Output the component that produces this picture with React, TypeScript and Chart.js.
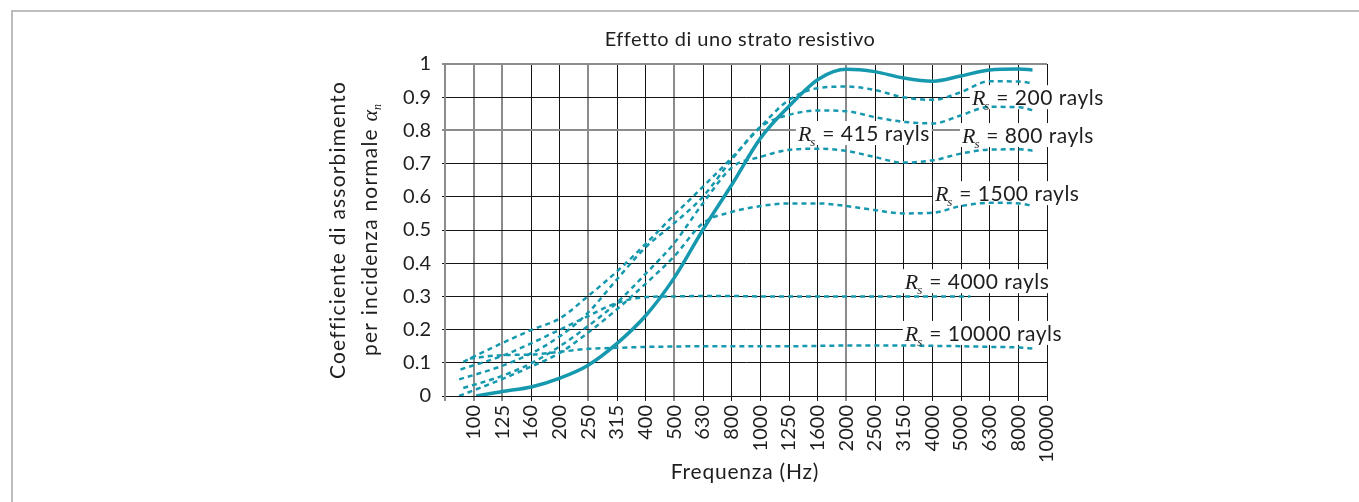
import React, { useEffect, useRef } from 'react';
import { Chart, registerables } from 'chart.js';

Chart.register(...registerables);

const TITLE = 'Effetto di uno strato resistivo';
const X_TITLE = 'Frequenza (Hz)';
const Y_TITLE_1 = 'Coefficiente di assorbimento';
const Y_TITLE_2 = 'per incidenza normale ';

const BAND_LABELS = ['100', '125', '160', '200', '250', '315', '400', '500', '630', '800', '1000', '1250', '1600', '2000', '2500', '3150', '4000', '5000', '6300', '8000', '10000'];
const Y_TICK_LABELS = ['0', '0.1', '0.2', '0.3', '0.4', '0.5', '0.6', '0.7', '0.8', '0.9', '1'];

// Rs = 415 rayls (solid)
const F_415 = [102, 125, 160, 200, 250, 315, 400, 500, 630, 800, 1000, 1250, 1600, 2000, 2500, 3150, 4000, 5000, 6300, 8000, 8900];
const A_415 = [0, 0.013, 0.028, 0.054, 0.092, 0.157, 0.244, 0.355, 0.5, 0.64, 0.776, 0.87, 0.955, 0.984, 0.977, 0.958, 0.948, 0.964, 0.982, 0.985, 0.982];

// Rs = 200 rayls
const F_200 = [92, 112, 160, 200, 250, 315, 400, 500, 630, 800, 1000, 1250, 1600, 2000, 2500, 3150, 4000, 5000, 6300, 8000, 8900];
const A_200 = [0.103, 0.139, 0.2, 0.234, 0.3, 0.374, 0.46, 0.545, 0.63, 0.72, 0.81, 0.89, 0.928, 0.932, 0.922, 0.9, 0.892, 0.915, 0.948, 0.947, 0.942];

// Rs = 800 rayls
const F_800 = [89, 125, 160, 200, 250, 315, 400, 500, 630, 800, 1000, 1250, 1600, 2000, 2500, 3150, 4000, 5000, 6300, 8000, 8900];
const A_800 = [0.05, 0.09, 0.13, 0.18, 0.25, 0.35, 0.45, 0.52, 0.6, 0.715, 0.81, 0.846, 0.86, 0.858, 0.84, 0.826, 0.821, 0.845, 0.871, 0.87, 0.861];

// upper 1500-type curve
const F_1500A = [92, 125, 160, 200, 250, 315, 400, 500, 630, 800, 1000, 1250, 1600, 2000, 2500, 3150, 4000, 5000, 6300, 8000, 8900];
const A_1500A = [0.024, 0.06, 0.1, 0.15, 0.21, 0.28, 0.37, 0.46, 0.58, 0.69, 0.72, 0.741, 0.745, 0.738, 0.72, 0.703, 0.71, 0.73, 0.742, 0.743, 0.739];

// Rs = 1500 rayls
const F_1500 = [89, 125, 160, 200, 250, 315, 400, 500, 630, 800, 1000, 1250, 1600, 2000, 2500, 3150, 4000, 5000, 6300, 8000, 8900];
const A_1500 = [0, 0.05, 0.09, 0.13, 0.19, 0.26, 0.34, 0.42, 0.52, 0.555, 0.572, 0.58, 0.58, 0.572, 0.56, 0.55, 0.552, 0.572, 0.582, 0.58, 0.573];

// Rs = 4000 rayls
const F_4000 = [90, 125, 160, 200, 250, 315, 400, 500, 630, 800, 1000, 1250, 1600, 2000, 2500, 3150, 4000, 5400];
const A_4000 = [0.08, 0.12, 0.16, 0.2, 0.24, 0.28, 0.298, 0.3, 0.301, 0.301, 0.3, 0.3, 0.3, 0.3, 0.3, 0.3, 0.3, 0.3];

// Rs = 10000 rayls
const F_10000 = [97, 125, 160, 200, 250, 315, 400, 500, 630, 800, 1000, 1250, 1600, 2000, 2500, 3150, 4000, 5000, 6300, 8000, 8900];
const A_10000 = [0.113, 0.123, 0.125, 0.133, 0.142, 0.145, 0.148, 0.149, 0.15, 0.15, 0.15, 0.15, 0.151, 0.152, 0.152, 0.152, 0.151, 0.15, 0.148, 0.146, 0.143];

// curve annotations: anchor (left edge frequency, alpha at text centre)
const NOTE_TEXT = [' = 200 rayls', ' = 415 rayls', ' = 800 rayls', ' = 1500 rayls', ' = 4000 rayls', ' = 10000 rayls'];
const NOTE_FREQ = [5470, 1352, 5050, 4064, 3192, 3192];
const NOTE_ALPHA = [0.9, 0.792, 0.786, 0.611, 0.346, 0.19];

const TEAL = '#1699ae';
const SANS = 'Lato, "Open Sans", "Noto Sans", sans-serif';
const SERIF = '"Liberation Serif", "DejaVu Serif", serif';
const TEXT = '#1e1e1e';

const pts = (f: number[], a: number[]) => f.map((x, i) => ({ x, y: a[i] }));

function dashed(label: string, f: number[], a: number[]) {
  return {
    label,
    data: pts(f, a),
    borderColor: TEAL,
    borderWidth: 2.5,
    borderDash: [5, 4],
    pointRadius: 0,
    cubicInterpolationMode: 'monotone' as const,
    fill: false,
  };
}

function drawRs(ctx: any, x: number, y: number, rest: string, withBox: boolean, withText: boolean) {
  ctx.save();
  ctx.letterSpacing = '0px';
  ctx.font = `italic 22px ${SERIF}`;
  const wR = ctx.measureText('R').width;
  ctx.font = `italic 13px ${SERIF}`;
  const wS = ctx.measureText('s').width;
  ctx.font = `21px ${SANS}`;
  ctx.letterSpacing = '0.5px';
  const wRest = ctx.measureText(rest).width;
  const total = wR + wS + wRest;
  if (withBox) {
    ctx.fillStyle = '#ffffff';
    ctx.fillRect(x - 2, y - 12, total + 4, 24);
  }
  if (withText) {
    ctx.fillStyle = TEXT;
    ctx.textBaseline = 'alphabetic';
    ctx.textAlign = 'left';
    ctx.letterSpacing = '0px';
    ctx.font = `italic 22px ${SERIF}`;
    ctx.fillText('R', x, y + 8);
    ctx.font = `italic 13px ${SERIF}`;
    ctx.fillText('s', x + wR - 1, y + 13);
    ctx.font = `21px ${SANS}`;
    ctx.letterSpacing = '0.5px';
    ctx.fillText(rest, x + wR + wS, y + 8);
  }
  ctx.restore();
}

const annotationPlugin = {
  id: 'rsNotes',
  beforeDatasetsDraw(chart: any) {
    const { ctx, scales } = chart;
    NOTE_TEXT.forEach((t, i) => {
      drawRs(ctx, scales.x.getPixelForValue(NOTE_FREQ[i]), scales.y.getPixelForValue(NOTE_ALPHA[i]), t, true, false);
    });
  },
  afterDatasetsDraw(chart: any) {
    const { ctx, scales } = chart;
    NOTE_TEXT.forEach((t, i) => {
      drawRs(ctx, scales.x.getPixelForValue(NOTE_FREQ[i]), scales.y.getPixelForValue(NOTE_ALPHA[i]), t, false, true);
    });
  },
  afterDraw(chart: any) {
    const { ctx, chartArea } = chart;
    const cx = (chartArea.left + chartArea.right) / 2;
    const cy = (chartArea.top + chartArea.bottom) / 2;
    ctx.save();
    ctx.fillStyle = TEXT;
    ctx.textAlign = 'center';
    ctx.textBaseline = 'middle';
    ctx.font = `20px ${SANS}`;
    ctx.letterSpacing = '0.5px';
    ctx.fillText(TITLE, cx - 6, chartArea.top - 24);
    ctx.font = `21px ${SANS}`;
    ctx.letterSpacing = '0.8px';
    ctx.fillText(X_TITLE, cx - 1, chartArea.bottom + 76);
    // y title
    ctx.translate(chartArea.left - 107, cy);
    ctx.rotate(-Math.PI / 2);
    ctx.font = `21px ${SANS}`;
    ctx.letterSpacing = '1.2px';
    ctx.fillText(Y_TITLE_1, 0, 0);
    const w1 = ctx.measureText(Y_TITLE_2).width;
    ctx.letterSpacing = '0px';
    ctx.font = `italic 22px ${SERIF}`;
    const wA = ctx.measureText('α').width;
    ctx.font = `italic 12px ${SERIF}`;
    const wN = ctx.measureText('n').width;
    const total = w1 + wA + wN;
    let sx = -total / 2;
    ctx.textAlign = 'left';
    ctx.textBaseline = 'alphabetic';
    ctx.font = `21px ${SANS}`;
    ctx.letterSpacing = '1.2px';
    ctx.fillText(Y_TITLE_2, sx, 39);
    sx += w1;
    ctx.letterSpacing = '0px';
    ctx.font = `italic 22px ${SERIF}`;
    ctx.fillText('α', sx, 39);
    sx += wA;
    ctx.font = `italic 12px ${SERIF}`;
    ctx.fillText('n', sx, 43);
    ctx.restore();
  },
};

const GRAY_X = [0, 1, 2, 5, 8, 14];
const GRAY_Y = [8, 10];

export default function App() {
  const ref = useRef<HTMLCanvasElement | null>(null);

  useEffect(() => {
    if (!ref.current) return;
    const chart = new Chart(ref.current, {
      type: 'line',
      data: {
        datasets: [
          dashed('Rs = 200 rayls', F_200, A_200),
          dashed('Rs = 800 rayls', F_800, A_800),
          dashed('Rs (upper 1500)', F_1500A, A_1500A),
          dashed('Rs = 1500 rayls', F_1500, A_1500),
          dashed('Rs = 4000 rayls', F_4000, A_4000),
          dashed('Rs = 10000 rayls', F_10000, A_10000),
          {
            label: 'Rs = 415 rayls',
            data: pts(F_415, A_415),
            borderColor: TEAL,
            borderWidth: 3.5,
            pointRadius: 0,
            cubicInterpolationMode: 'monotone' as const,
            fill: false,
          },
        ],
      },
      options: {
        animation: false,
        responsive: true,
        maintainAspectRatio: false,
        layout: { padding: { left: 0, right: 312, top: 64, bottom: 0 } },
        plugins: { legend: { display: false }, tooltip: { enabled: false }, title: { display: false } },
        scales: {
          x: {
            type: 'logarithmic',
            min: Math.pow(10, 1.9),
            max: 10000,
            afterBuildTicks: (scale: any) => {
              const t = [{ value: Math.pow(10, 1.9) }];
              BAND_LABELS.forEach((_, i) => t.push({ value: Math.pow(10, 2 + i / 10) }));
              scale.ticks = t;
            },
            afterFit: (scale: any) => {
              scale.height = 106;
            },
            ticks: {
              autoSkip: false,
              minRotation: 90,
              maxRotation: 90,
              padding: 4,
              color: TEXT,
              font: { size: 20, family: SANS },
              callback: (_v: any, i: number) => (i === 0 ? '' : BAND_LABELS[i - 1]),
            },
            grid: {
              color: (c: any) => (GRAY_X.includes(c.index) ? '#8c8c8c' : '#141414'),
              lineWidth: (c: any) => (GRAY_X.includes(c.index) ? 2 : 1),
              tickLength: 5,
            },
            border: { display: true, color: '#141414', width: 1 },
          },
          y: {
            type: 'linear',
            min: 0,
            max: 1,
            afterFit: (scale: any) => {
              scale.width = 445;
            },
            ticks: {
              stepSize: 0.1,
              padding: 11,
              color: TEXT,
              font: { size: 20, family: SANS },
              callback: (_v: any, i: number) => Y_TICK_LABELS[i],
            },
            grid: {
              color: (c: any) => (GRAY_Y.includes(c.index) ? '#8c8c8c' : '#141414'),
              lineWidth: (c: any) => (GRAY_Y.includes(c.index) ? 2 : 1),
              tickLength: 3,
            },
            border: { display: true, color: '#8c8c8c', width: 2 },
          },
        },
      },
      plugins: [annotationPlugin],
    });
    return () => chart.destroy();
  }, []);

  return (
    <div style={{ position: 'fixed', left: 0, top: 0, width: 1359, height: 502, overflow: 'hidden', background: '#fff' }}>
      <div
        style={{
          position: 'absolute',
          left: 11,
          top: 10,
          width: 1400,
          height: 600,
          borderTop: '2px solid #bdbdbd',
          borderLeft: '2px solid #bdbdbd',
        }}
      />
      <div style={{ position: 'absolute', left: 0, top: 0, width: 1359, height: 502 }}>
        <canvas ref={ref} />
      </div>
    </div>
  );
}
